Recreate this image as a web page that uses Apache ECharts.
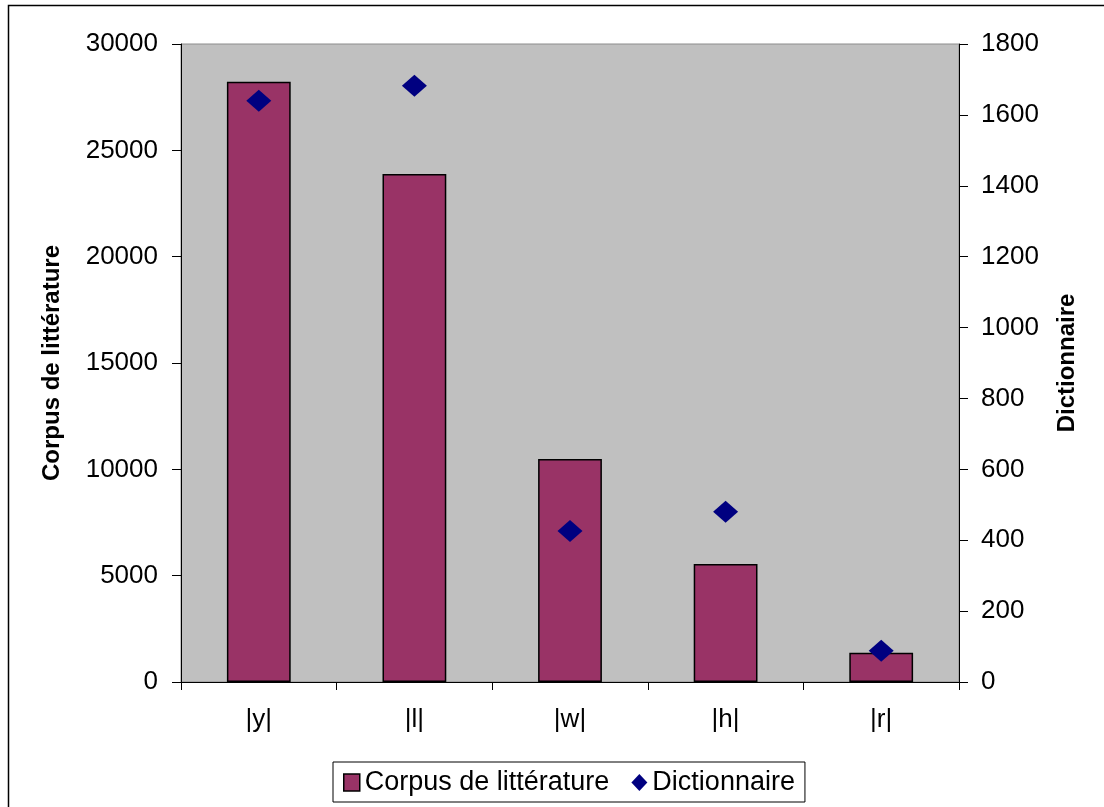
<!DOCTYPE html>
<html>
<head>
<meta charset="utf-8">
<script src="https://cdn.jsdelivr.net/npm/echarts@6/dist/echarts.min.js"></script>
<style>html,body{margin:0;padding:0;background:#fff;}#c{width:1104px;height:807px;}</style>
</head>
<body>
<div id="c"></div>
<script>
const categories = ['|y|', '|l|', '|w|', '|h|', '|r|'];
const corpusValues = [28220, 23890, 10490, 5550, 1370];
const dictValues = [1640, 1682, 426, 480, 88];
const leftTicks = { min: 0, max: 30000, interval: 5000 };
const rightTicks = { min: 0, max: 1800, interval: 200 };

const FONT = '"Liberation Sans", Arial, sans-serif';
const chart = echarts.init(document.getElementById('c'), null, { renderer: 'canvas' });
chart.setOption({
  backgroundColor: '#ffffff',
  animation: false,
  graphic: [{
    type: 'rect', shape: { x: 8.5, y: 5.5, width: 1200, height: 900 },
    style: { fill: 'none', stroke: '#000', lineWidth: 1.5 }, silent: true, z: -1
  }],
  grid: {
    left: 181, right: 145, top: 44, bottom: 125,
    show: true, backgroundColor: '#C0C0C0', borderColor: '#8c8c8c', borderWidth: 1
  },
  legend: {
    left: 333, top: 762,
    padding: [7, 10, 6, 10],
    itemGap: 22, itemWidth: 16, itemHeight: 17,
    borderColor: '#000', borderWidth: 1,
    textStyle: { fontFamily: FONT, fontSize: 27, color: '#000' },
    data: [
      { name: 'Corpus de littérature', icon: 'rect', itemStyle: { borderColor: '#000', borderWidth: 1.5 } },
      { name: 'Dictionnaire', icon: 'diamond' }
    ]
  },
  xAxis: {
    type: 'category', data: categories, boundaryGap: true,
    axisLine: { lineStyle: { color: '#000', width: 1 } },
    axisTick: { show: true, length: 8, lineStyle: { color: '#000' } },
    axisLabel: { margin: 25, fontFamily: FONT, fontSize: 26, color: '#000' },
    splitLine: { show: false }
  },
  yAxis: [{
    type: 'value', position: 'left',
    min: leftTicks.min, max: leftTicks.max, interval: leftTicks.interval,
    name: 'Corpus de littérature', nameLocation: 'middle', nameGap: 117, nameRotate: 90,
    nameTextStyle: { fontFamily: FONT, fontSize: 24, fontWeight: 'bold', color: '#000' },
    axisLine: { show: true, lineStyle: { color: '#000', width: 1 } },
    axisTick: { show: true, length: 9, lineStyle: { color: '#000' } },
    axisLabel: { margin: 23, fontFamily: FONT, fontSize: 26, color: '#000', formatter: v => String(v) },
    splitLine: { show: false }
  }, {
    type: 'value', position: 'right',
    min: rightTicks.min, max: rightTicks.max, interval: rightTicks.interval,
    name: 'Dictionnaire', nameLocation: 'middle', nameGap: 96, nameRotate: 90,
    nameTextStyle: { fontFamily: FONT, fontSize: 24, fontWeight: 'bold', color: '#000' },
    axisLine: { show: true, lineStyle: { color: '#000', width: 1 } },
    axisTick: { show: true, length: 9, lineStyle: { color: '#000' } },
    axisLabel: { margin: 22, fontFamily: FONT, fontSize: 26, color: '#000', formatter: v => String(v) },
    splitLine: { show: false }
  }],
  series: [{
    name: 'Corpus de littérature', type: 'bar', yAxisIndex: 0,
    data: corpusValues, barWidth: '41%',
    itemStyle: { color: '#993366', borderColor: '#000', borderWidth: 1.5 }
  }, {
    name: 'Dictionnaire', type: 'scatter', yAxisIndex: 1,
    data: dictValues, symbol: 'diamond', symbolSize: [25, 22],
    itemStyle: { color: '#000080', opacity: 1 }, z: 5
  }]
});
</script>
</body>
</html>
